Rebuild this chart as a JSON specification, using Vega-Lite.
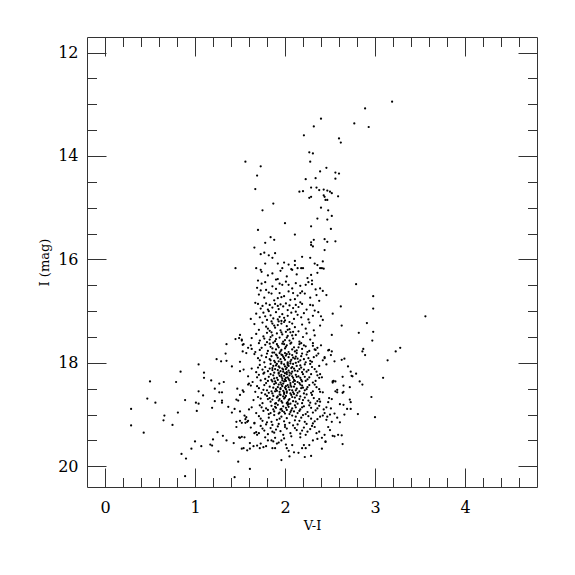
{
"$schema": "https://vega.github.io/schema/vega-lite/v6.json",
"width": 450, "height": 450,
"autosize": "none",
"padding": {"left": 87, "top": 37, "right": 38, "bottom": 88},
"background": "white",
"data": {"values": [
{"VI":3.19,"I":12.95},{"VI":2.89,"I":13.08},{"VI":2.40,"I":13.28},{"VI":2.77,"I":13.37},{"VI":2.32,"I":13.43},{"VI":2.93,"I":13.44},{"VI":2.21,"I":13.60},{"VI":2.60,"I":13.66},{"VI":2.62,"I":13.74},{"VI":2.27,"I":13.93},{"VI":2.31,"I":13.95},{"VI":1.56,"I":14.11},{"VI":2.28,"I":14.11},{"VI":1.73,"I":14.20},{"VI":2.46,"I":14.23},{"VI":2.39,"I":14.30},{"VI":2.56,"I":14.32},{"VI":2.60,"I":14.34},{"VI":1.69,"I":14.38},{"VI":2.34,"I":14.43},{"VI":2.23,"I":14.45},{"VI":2.56,"I":14.44},{"VI":1.67,"I":14.64},{"VI":2.29,"I":14.61},{"VI":2.35,"I":14.61},{"VI":2.38,"I":14.66},{"VI":2.43,"I":14.65},{"VI":2.47,"I":14.67},{"VI":2.50,"I":14.69},{"VI":2.52,"I":14.72},{"VI":2.16,"I":14.69},{"VI":2.20,"I":14.68},{"VI":2.43,"I":14.76},{"VI":2.44,"I":14.79},{"VI":2.27,"I":14.81},{"VI":2.29,"I":14.79},{"VI":2.59,"I":14.78},{"VI":2.45,"I":14.85},{"VI":2.47,"I":14.85},{"VI":1.87,"I":14.92},{"VI":2.40,"I":15.00},{"VI":1.75,"I":15.05},{"VI":2.48,"I":15.05},{"VI":2.52,"I":15.16},{"VI":2.36,"I":15.21},{"VI":2.47,"I":15.23},{"VI":2.00,"I":15.30},{"VI":2.29,"I":15.36},{"VI":2.51,"I":15.41},{"VI":1.70,"I":15.43},{"VI":2.11,"I":15.52},{"VI":1.84,"I":15.57},{"VI":1.88,"I":15.62},{"VI":1.78,"I":15.68},{"VI":2.32,"I":15.62},{"VI":2.29,"I":15.67},{"VI":2.29,"I":15.72},{"VI":2.31,"I":15.75},{"VI":2.44,"I":15.61},{"VI":2.47,"I":15.66},{"VI":2.56,"I":15.65},{"VI":1.66,"I":15.77},{"VI":1.73,"I":15.90},{"VI":1.77,"I":15.87},{"VI":1.82,"I":15.92},{"VI":1.86,"I":15.97},{"VI":1.89,"I":15.88},{"VI":2.44,"I":15.82},{"VI":2.19,"I":15.95},{"VI":2.28,"I":15.97},{"VI":2.42,"I":16.04},{"VI":1.78,"I":16.08},{"VI":1.92,"I":16.08},{"VI":1.99,"I":16.06},{"VI":2.04,"I":16.10},{"VI":2.11,"I":16.03},{"VI":2.11,"I":16.11},{"VI":2.33,"I":16.08},{"VI":2.36,"I":16.11},{"VI":1.45,"I":16.17},{"VI":1.68,"I":16.17},{"VI":1.97,"I":16.17},{"VI":2.07,"I":16.19},{"VI":2.14,"I":16.17},{"VI":2.18,"I":16.17},{"VI":2.20,"I":16.17},{"VI":2.39,"I":16.17},{"VI":2.41,"I":16.17},{"VI":2.43,"I":16.18},
{"VI":2.08,"I":16.20},{"VI":1.73,"I":16.20},{"VI":1.70,"I":16.41},{"VI":1.74,"I":16.47},{"VI":1.90,"I":16.39},{"VI":1.81,"I":16.31},{"VI":1.97,"I":16.49},{"VI":2.04,"I":16.49},{"VI":2.12,"I":16.46},{"VI":2.23,"I":16.49},{"VI":2.30,"I":16.41},{"VI":2.30,"I":16.48},{"VI":2.29,"I":16.30},{"VI":2.79,"I":16.48},{"VI":1.79,"I":16.59},{"VI":1.73,"I":16.60},{"VI":1.82,"I":16.64},{"VI":1.90,"I":16.57},{"VI":1.94,"I":16.65},{"VI":2.09,"I":16.65},{"VI":2.17,"I":16.65},{"VI":2.19,"I":16.62},{"VI":2.14,"I":16.70},{"VI":2.39,"I":16.56},{"VI":2.42,"I":16.61},{"VI":2.46,"I":16.69},{"VI":1.92,"I":16.75},{"VI":1.96,"I":16.73},{"VI":2.11,"I":16.77},{"VI":2.17,"I":16.83},{"VI":2.31,"I":16.89},{"VI":2.38,"I":16.80},{"VI":2.98,"I":16.71},{"VI":2.98,"I":16.95},{"VI":3.56,"I":17.10},{"VI":1.67,"I":16.84},{"VI":2.62,"I":16.91},{"VI":2.53,"I":17.05},{"VI":2.40,"I":17.10},{"VI":2.42,"I":17.17},{"VI":2.63,"I":17.28},{"VI":2.52,"I":17.46},{"VI":2.91,"I":17.23},{"VI":2.82,"I":17.42},{"VI":2.98,"I":17.40},{"VI":2.97,"I":17.57},{"VI":2.87,"I":17.73},{"VI":2.86,"I":17.78},{"VI":3.23,"I":17.78},{"VI":3.28,"I":17.71},{"VI":2.49,"I":17.75},{"VI":2.52,"I":17.78},{"VI":1.45,"I":17.54},{"VI":1.50,"I":17.46},{"VI":1.52,"I":17.55},{"VI":1.53,"I":17.65},{"VI":1.59,"I":17.71},{"VI":1.63,"I":17.73},{"VI":1.53,"I":17.78},{"VI":2.31,"I":17.67},{"VI":2.34,"I":17.75},{"VI":2.44,"I":17.91},{"VI":2.66,"I":17.92},
{"VI":2.89,"I":17.85},{"VI":3.14,"I":17.95},{"VI":3.09,"I":18.29},{"VI":2.96,"I":18.66},{"VI":3.00,"I":19.05},{"VI":2.48,"I":17.76},{"VI":2.44,"I":17.89},{"VI":2.42,"I":17.95},{"VI":2.51,"I":17.85},{"VI":2.55,"I":17.97},{"VI":2.46,"I":18.03},{"VI":2.63,"I":17.94},{"VI":2.70,"I":18.07},{"VI":2.73,"I":18.17},{"VI":2.79,"I":18.21},{"VI":2.74,"I":18.25},{"VI":2.75,"I":18.26},{"VI":2.64,"I":18.27},{"VI":2.83,"I":18.36},{"VI":2.86,"I":18.42},{"VI":2.54,"I":18.35},{"VI":2.53,"I":18.36},{"VI":2.56,"I":18.36},{"VI":2.53,"I":18.38},{"VI":2.41,"I":18.28},{"VI":2.39,"I":18.22},{"VI":2.65,"I":18.44},{"VI":2.72,"I":18.47},{"VI":2.56,"I":18.55},{"VI":2.58,"I":18.52},{"VI":2.58,"I":18.57},{"VI":2.64,"I":18.58},{"VI":2.65,"I":18.56},{"VI":2.39,"I":18.56},{"VI":2.42,"I":18.57},{"VI":2.52,"I":18.70},{"VI":2.49,"I":18.68},{"VI":2.72,"I":18.71},{"VI":2.73,"I":18.76},{"VI":2.61,"I":18.80},{"VI":2.65,"I":18.81},{"VI":2.69,"I":18.89},{"VI":2.73,"I":18.89},{"VI":2.48,"I":18.76},{"VI":2.39,"I":18.75},{"VI":2.81,"I":18.99},{"VI":2.66,"I":19.00},{"VI":2.58,"I":19.06},{"VI":2.52,"I":19.14},{"VI":2.46,"I":19.10},{"VI":2.61,"I":19.15},{"VI":2.48,"I":19.24},{"VI":2.50,"I":19.30},{"VI":2.44,"I":19.39},{"VI":2.53,"I":19.41},{"VI":2.55,"I":19.42},{"VI":2.59,"I":19.39},{"VI":2.63,"I":19.40},{"VI":2.41,"I":19.45},{"VI":2.45,"I":19.52},{"VI":2.64,"I":19.57},{"VI":2.41,"I":19.66},{"VI":2.46,"I":18.86},{"VI":2.43,"I":18.90},{"VI":2.51,"I":18.88},{"VI":2.44,"I":18.97},{"VI":2.50,"I":19.00},{"VI":2.42,"I":19.02},{"VI":2.47,"I":19.04},{"VI":2.55,"I":18.98},
{"VI":0.89,"I":20.19},{"VI":0.85,"I":19.76},{"VI":0.90,"I":19.85},{"VI":0.96,"I":19.66},{"VI":1.00,"I":19.52},{"VI":1.07,"I":19.61},{"VI":1.17,"I":19.58},{"VI":1.19,"I":19.60},{"VI":1.20,"I":19.48},{"VI":1.26,"I":19.71},{"VI":1.35,"I":19.50},{"VI":1.43,"I":19.55},{"VI":1.48,"I":19.91},{"VI":1.44,"I":20.21},{"VI":1.61,"I":20.05},{"VI":1.52,"I":19.66},{"VI":1.54,"I":19.65},{"VI":1.58,"I":19.69},{"VI":1.61,"I":19.66},{"VI":1.65,"I":19.61},{"VI":1.69,"I":19.60},{"VI":1.73,"I":19.56},{"VI":1.72,"I":19.65},{"VI":1.76,"I":19.63},{"VI":1.79,"I":19.61},{"VI":1.81,"I":19.50},{"VI":1.85,"I":19.50},{"VI":1.87,"I":19.52},{"VI":1.86,"I":19.65},{"VI":1.89,"I":19.65},{"VI":1.91,"I":19.56},{"VI":1.93,"I":19.54},{"VI":1.96,"I":19.50},{"VI":2.01,"I":19.58},{"VI":2.02,"I":19.65},{"VI":2.04,"I":19.70},{"VI":2.08,"I":19.59},{"VI":2.05,"I":19.81},{"VI":2.10,"I":19.73},{"VI":2.15,"I":19.74},{"VI":2.19,"I":19.65},{"VI":2.21,"I":19.59},{"VI":2.23,"I":19.65},{"VI":2.27,"I":19.59},{"VI":2.22,"I":19.82},{"VI":2.29,"I":19.80},{"VI":2.31,"I":19.50},{"VI":2.45,"I":19.53},{"VI":1.96,"I":19.88},
{"VI":0.29,"I":19.21},{"VI":0.43,"I":19.35},{"VI":0.65,"I":19.11},{"VI":0.75,"I":19.20},{"VI":1.25,"I":19.34},{"VI":1.31,"I":19.41},{"VI":1.46,"I":19.14},{"VI":1.46,"I":19.24},{"VI":1.52,"I":19.16},{"VI":1.56,"I":19.16},{"VI":1.59,"I":19.12},{"VI":1.66,"I":19.16},{"VI":1.50,"I":19.45},{"VI":1.52,"I":19.43},{"VI":1.66,"I":19.36},{"VI":1.69,"I":19.39},{"VI":1.71,"I":19.36},
{"VI":0.29,"I":18.89},{"VI":0.50,"I":18.36},{"VI":0.47,"I":18.69},{"VI":0.56,"I":18.77},{"VI":0.66,"I":19.02},{"VI":0.79,"I":18.37},{"VI":0.84,"I":18.17},{"VI":0.81,"I":18.96},{"VI":0.89,"I":18.72},{"VI":1.04,"I":18.03},{"VI":1.10,"I":18.19},{"VI":1.10,"I":18.29},{"VI":1.04,"I":18.55},{"VI":1.01,"I":18.77},{"VI":1.04,"I":18.79},{"VI":1.02,"I":18.93},{"VI":1.09,"I":18.63},{"VI":1.18,"I":18.34},{"VI":1.24,"I":17.93},{"VI":1.29,"I":17.97},{"VI":1.35,"I":17.96},{"VI":1.22,"I":18.50},{"VI":1.27,"I":18.40},{"VI":1.32,"I":18.37},{"VI":1.27,"I":18.57},{"VI":1.30,"I":18.57},{"VI":1.22,"I":18.74},{"VI":1.19,"I":18.87},{"VI":1.30,"I":18.73},{"VI":1.30,"I":18.77},{"VI":1.37,"I":18.85},{"VI":1.41,"I":18.96},{"VI":1.35,"I":17.64},{"VI":1.34,"I":17.82},{"VI":1.41,"I":18.07},{"VI":1.49,"I":17.52},{"VI":1.52,"I":17.57},{"VI":1.54,"I":17.64},{"VI":1.57,"I":17.81},{"VI":1.50,"I":17.98},{"VI":1.50,"I":18.16},{"VI":1.54,"I":18.13},{"VI":1.47,"I":18.50},{"VI":1.53,"I":18.53},{"VI":1.54,"I":18.56},{"VI":1.59,"I":18.26},{"VI":1.60,"I":18.40},{"VI":1.59,"I":18.42},{"VI":1.50,"I":18.62},{"VI":1.46,"I":18.71},{"VI":1.48,"I":18.73},{"VI":1.44,"I":18.89},{"VI":1.50,"I":18.94},{"VI":1.60,"I":18.90},{"VI":1.55,"I":19.02},{"VI":1.57,"I":19.05},{"VI":1.50,"I":19.12},{"VI":1.56,"I":19.09},{"VI":1.58,"I":19.14},{"VI":1.49,"I":19.44},{"VI":1.55,"I":19.44},{"VI":1.61,"I":19.55},
{"VI":1.74,"I":16.24},{"VI":1.86,"I":16.27},{"VI":1.95,"I":16.22},{"VI":2.02,"I":16.33},{"VI":2.13,"I":16.29},{"VI":2.25,"I":16.36},{"VI":2.36,"I":16.26},{"VI":1.92,"I":16.38},
{"VI":1.78,"I":16.44},{"VI":1.86,"I":16.52},{"VI":2.01,"I":16.43},{"VI":2.08,"I":16.56},{"VI":2.17,"I":16.51},{"VI":2.26,"I":16.44},{"VI":2.34,"I":16.58},{"VI":1.69,"I":16.55},{"VI":1.94,"I":16.47},
{"VI":1.71,"I":16.68},{"VI":1.77,"I":16.74},{"VI":1.85,"I":16.66},{"VI":1.99,"I":16.71},{"VI":2.04,"I":16.62},{"VI":2.06,"I":16.78},{"VI":2.22,"I":16.66},{"VI":2.28,"I":16.74},{"VI":2.35,"I":16.69},{"VI":1.88,"I":16.79},
{"VI":1.70,"I":16.86},{"VI":1.75,"I":16.90},{"VI":1.79,"I":16.85},{"VI":1.83,"I":16.88},{"VI":1.86,"I":16.93},{"VI":1.89,"I":16.86},{"VI":1.92,"I":16.90},{"VI":1.95,"I":16.87},{"VI":1.98,"I":16.91},{"VI":2.01,"I":16.85},{"VI":2.05,"I":16.89},{"VI":2.09,"I":16.94},{"VI":2.12,"I":16.88},{"VI":2.15,"I":16.92},{"VI":2.19,"I":16.86},{"VI":2.24,"I":16.97},{"VI":2.33,"I":16.99},{"VI":1.81,"I":16.97},{"VI":1.93,"I":16.96},{"VI":2.03,"I":16.98},{"VI":1.73,"I":16.95},{"VI":2.28,"I":16.88},
{"VI":1.68,"I":17.05},{"VI":1.72,"I":17.12},{"VI":1.76,"I":17.03},{"VI":1.80,"I":17.17},{"VI":1.84,"I":17.08},{"VI":1.87,"I":17.14},{"VI":1.90,"I":17.02},{"VI":1.94,"I":17.11},{"VI":1.97,"I":17.06},{"VI":2.00,"I":17.18},{"VI":2.03,"I":17.09},{"VI":2.07,"I":17.03},{"VI":2.10,"I":17.15},{"VI":2.14,"I":17.07},{"VI":2.18,"I":17.12},{"VI":2.21,"I":17.04},{"VI":2.26,"I":17.16},{"VI":2.31,"I":17.09},{"VI":2.37,"I":17.02},{"VI":1.82,"I":17.00},{"VI":1.96,"I":17.19},{"VI":2.12,"I":17.01},{"VI":1.62,"I":17.15},
{"VI":1.66,"I":17.25},{"VI":1.71,"I":17.36},{"VI":1.75,"I":17.22},{"VI":1.79,"I":17.30},{"VI":1.83,"I":17.38},{"VI":1.86,"I":17.24},{"VI":1.89,"I":17.32},{"VI":1.92,"I":17.27},{"VI":1.95,"I":17.37},{"VI":1.99,"I":17.21},{"VI":2.02,"I":17.29},{"VI":2.05,"I":17.35},{"VI":2.08,"I":17.24},{"VI":2.11,"I":17.31},{"VI":2.15,"I":17.39},{"VI":2.19,"I":17.26},{"VI":2.23,"I":17.34},{"VI":2.27,"I":17.22},{"VI":2.32,"I":17.37},{"VI":2.39,"I":17.28},{"VI":1.93,"I":17.20},{"VI":2.01,"I":17.40},
{"VI":1.63,"I":17.52},{"VI":1.68,"I":17.44},{"VI":1.72,"I":17.57},{"VI":1.76,"I":17.49},{"VI":1.80,"I":17.42},{"VI":1.83,"I":17.55},{"VI":1.86,"I":17.47},{"VI":1.89,"I":17.58},{"VI":1.91,"I":17.43},{"VI":1.94,"I":17.51},{"VI":1.97,"I":17.45},{"VI":2.00,"I":17.56},{"VI":2.03,"I":17.48},{"VI":2.06,"I":17.41},{"VI":2.09,"I":17.53},{"VI":2.12,"I":17.46},{"VI":2.16,"I":17.59},{"VI":2.20,"I":17.50},{"VI":2.24,"I":17.43},{"VI":2.28,"I":17.55},{"VI":2.33,"I":17.47},{"VI":1.98,"I":17.59},{"VI":2.05,"I":17.57},{"VI":1.85,"I":17.41},
{"VI":1.62,"I":17.66},{"VI":1.67,"I":17.79},{"VI":1.71,"I":17.62},{"VI":1.74,"I":17.71},{"VI":1.78,"I":17.65},{"VI":1.81,"I":17.77},{"VI":1.84,"I":17.69},{"VI":1.87,"I":17.61},{"VI":1.90,"I":17.74},{"VI":1.92,"I":17.67},{"VI":1.95,"I":17.78},{"VI":1.97,"I":17.63},{"VI":2.00,"I":17.72},{"VI":2.02,"I":17.66},{"VI":2.04,"I":17.79},{"VI":2.07,"I":17.61},{"VI":2.10,"I":17.70},{"VI":2.13,"I":17.76},{"VI":2.16,"I":17.64},{"VI":2.19,"I":17.73},{"VI":2.23,"I":17.68},{"VI":2.27,"I":17.77},{"VI":2.31,"I":17.62},{"VI":2.36,"I":17.71},{"VI":1.88,"I":17.80},{"VI":1.99,"I":17.64},{"VI":2.08,"I":17.74},{"VI":1.93,"I":17.70},{"VI":2.40,"I":17.66},{"VI":1.80,"I":17.60},
{"VI":1.66,"I":17.83},{"VI":1.70,"I":17.91},{"VI":1.74,"I":17.86},{"VI":1.77,"I":17.99},{"VI":1.80,"I":17.82},{"VI":1.83,"I":17.93},{"VI":1.85,"I":17.87},{"VI":1.88,"I":17.96},{"VI":1.90,"I":17.84},{"VI":1.92,"I":17.90},{"VI":1.94,"I":17.81},{"VI":1.96,"I":17.98},{"VI":1.98,"I":17.88},{"VI":2.00,"I":17.94},{"VI":2.02,"I":17.83},{"VI":2.04,"I":17.89},{"VI":2.06,"I":17.97},{"VI":2.08,"I":17.85},{"VI":2.11,"I":17.92},{"VI":2.13,"I":17.81},{"VI":2.15,"I":17.98},{"VI":2.18,"I":17.87},{"VI":2.21,"I":17.93},{"VI":2.24,"I":17.84},{"VI":2.28,"I":17.96},{"VI":2.32,"I":17.89},{"VI":2.37,"I":17.82},{"VI":1.89,"I":17.99},{"VI":1.97,"I":17.85},{"VI":2.03,"I":17.99},{"VI":2.09,"I":17.90},{"VI":1.86,"I":17.80},{"VI":2.01,"I":17.86},{"VI":2.17,"I":17.95},{"VI":1.95,"I":17.93},
{"VI":1.63,"I":18.11},{"VI":1.68,"I":18.18},{"VI":1.72,"I":18.04},{"VI":1.75,"I":18.13},{"VI":1.78,"I":18.08},{"VI":1.81,"I":18.16},{"VI":1.84,"I":18.02},{"VI":1.86,"I":18.10},{"VI":1.88,"I":18.19},{"VI":1.90,"I":18.05},{"VI":1.92,"I":18.14},{"VI":1.94,"I":18.09},{"VI":1.96,"I":18.01},{"VI":1.98,"I":18.17},{"VI":2.00,"I":18.07},{"VI":2.01,"I":18.12},{"VI":2.03,"I":18.04},{"VI":2.05,"I":18.19},{"VI":2.07,"I":18.10},{"VI":2.09,"I":18.02},{"VI":2.11,"I":18.15},{"VI":2.13,"I":18.06},{"VI":2.16,"I":18.12},{"VI":2.19,"I":18.18},{"VI":2.22,"I":18.03},{"VI":2.26,"I":18.14},{"VI":2.30,"I":18.08},{"VI":2.35,"I":18.17},{"VI":1.93,"I":18.19},{"VI":1.99,"I":18.03},{"VI":2.04,"I":18.15},{"VI":2.08,"I":18.08},{"VI":1.87,"I":18.06},{"VI":2.12,"I":18.00},{"VI":1.97,"I":18.11},{"VI":2.02,"I":18.18},
{"VI":1.64,"I":18.37},{"VI":1.69,"I":18.28},{"VI":1.73,"I":18.34},{"VI":1.76,"I":18.21},{"VI":1.79,"I":18.39},{"VI":1.82,"I":18.27},{"VI":1.85,"I":18.33},{"VI":1.87,"I":18.24},{"VI":1.89,"I":18.36},{"VI":1.91,"I":18.29},{"VI":1.93,"I":18.21},{"VI":1.95,"I":18.38},{"VI":1.97,"I":18.30},{"VI":1.99,"I":18.25},{"VI":2.01,"I":18.35},{"VI":2.02,"I":18.22},{"VI":2.04,"I":18.31},{"VI":2.06,"I":18.39},{"VI":2.08,"I":18.26},{"VI":2.10,"I":18.33},{"VI":2.12,"I":18.23},{"VI":2.14,"I":18.37},{"VI":2.17,"I":18.29},{"VI":2.20,"I":18.22},{"VI":2.23,"I":18.35},{"VI":2.27,"I":18.28},{"VI":2.31,"I":18.38},{"VI":2.36,"I":18.24},{"VI":1.96,"I":18.27},{"VI":2.00,"I":18.32},{"VI":2.05,"I":18.24},{"VI":1.92,"I":18.33},{"VI":2.09,"I":18.37},{"VI":1.84,"I":18.22},{"VI":2.15,"I":18.26},{"VI":1.98,"I":18.40},
{"VI":1.62,"I":18.44},{"VI":1.67,"I":18.56},{"VI":1.71,"I":18.49},{"VI":1.74,"I":18.58},{"VI":1.77,"I":18.43},{"VI":1.80,"I":18.53},{"VI":1.83,"I":18.46},{"VI":1.86,"I":18.59},{"VI":1.88,"I":18.41},{"VI":1.90,"I":18.51},{"VI":1.92,"I":18.47},{"VI":1.94,"I":18.56},{"VI":1.96,"I":18.42},{"VI":1.98,"I":18.54},{"VI":2.00,"I":18.48},{"VI":2.02,"I":18.58},{"VI":2.03,"I":18.43},{"VI":2.05,"I":18.52},{"VI":2.07,"I":18.46},{"VI":2.09,"I":18.57},{"VI":2.11,"I":18.41},{"VI":2.13,"I":18.50},{"VI":2.16,"I":18.55},{"VI":2.19,"I":18.44},{"VI":2.22,"I":18.53},{"VI":2.25,"I":18.47},{"VI":2.29,"I":18.58},{"VI":2.33,"I":18.42},{"VI":2.38,"I":18.51},{"VI":1.95,"I":18.49},{"VI":2.01,"I":18.45},{"VI":2.06,"I":18.59},{"VI":1.89,"I":18.55},{"VI":2.12,"I":18.53},{"VI":1.99,"I":18.60},
{"VI":1.65,"I":18.72},{"VI":1.70,"I":18.66},{"VI":1.75,"I":18.78},{"VI":1.78,"I":18.61},{"VI":1.81,"I":18.70},{"VI":1.84,"I":18.75},{"VI":1.87,"I":18.64},{"VI":1.89,"I":18.79},{"VI":1.91,"I":18.67},{"VI":1.93,"I":18.73},{"VI":1.95,"I":18.62},{"VI":1.97,"I":18.77},{"VI":1.99,"I":18.69},{"VI":2.01,"I":18.64},{"VI":2.03,"I":18.76},{"VI":2.05,"I":18.70},{"VI":2.07,"I":18.62},{"VI":2.09,"I":18.74},{"VI":2.11,"I":18.67},{"VI":2.14,"I":18.79},{"VI":2.17,"I":18.65},{"VI":2.20,"I":18.72},{"VI":2.24,"I":18.61},{"VI":2.28,"I":18.77},{"VI":2.32,"I":18.68},{"VI":2.36,"I":18.74},{"VI":1.98,"I":18.65},{"VI":2.04,"I":18.80},{"VI":1.94,"I":18.70},{"VI":2.10,"I":18.60},
{"VI":1.63,"I":18.86},{"VI":1.68,"I":18.97},{"VI":1.72,"I":18.82},{"VI":1.76,"I":18.93},{"VI":1.79,"I":18.88},{"VI":1.82,"I":18.99},{"VI":1.85,"I":18.83},{"VI":1.88,"I":18.94},{"VI":1.90,"I":18.87},{"VI":1.92,"I":18.81},{"VI":1.94,"I":18.96},{"VI":1.96,"I":18.89},{"VI":1.98,"I":18.84},{"VI":2.00,"I":18.98},{"VI":2.02,"I":18.91},{"VI":2.04,"I":18.85},{"VI":2.06,"I":18.95},{"VI":2.08,"I":18.88},{"VI":2.11,"I":18.82},{"VI":2.14,"I":18.97},{"VI":2.17,"I":18.90},{"VI":2.21,"I":18.84},{"VI":2.25,"I":18.95},{"VI":2.29,"I":18.87},{"VI":2.34,"I":18.92},{"VI":2.38,"I":18.83},{"VI":1.97,"I":18.93},{"VI":2.03,"I":18.81},{"VI":1.87,"I":18.90},
{"VI":1.66,"I":19.17},{"VI":1.71,"I":19.03},{"VI":1.75,"I":19.12},{"VI":1.79,"I":19.19},{"VI":1.82,"I":19.06},{"VI":1.85,"I":19.14},{"VI":1.88,"I":19.01},{"VI":1.91,"I":19.10},{"VI":1.93,"I":19.18},{"VI":1.96,"I":19.04},{"VI":1.99,"I":19.13},{"VI":2.02,"I":19.07},{"VI":2.05,"I":19.16},{"VI":2.08,"I":19.02},{"VI":2.11,"I":19.11},{"VI":2.14,"I":19.19},{"VI":2.18,"I":19.06},{"VI":2.22,"I":19.14},{"VI":2.26,"I":19.03},{"VI":2.31,"I":19.17},{"VI":2.36,"I":19.09},{"VI":2.00,"I":19.20},{"VI":2.12,"I":19.04},{"VI":1.86,"I":19.20},
{"VI":1.68,"I":19.34},{"VI":1.73,"I":19.22},{"VI":1.77,"I":19.31},{"VI":1.81,"I":19.38},{"VI":1.84,"I":19.26},{"VI":1.88,"I":19.35},{"VI":1.92,"I":19.23},{"VI":1.95,"I":19.32},{"VI":1.98,"I":19.39},{"VI":2.02,"I":19.27},{"VI":2.06,"I":19.36},{"VI":2.09,"I":19.21},{"VI":2.13,"I":19.30},{"VI":2.17,"I":19.37},{"VI":2.21,"I":19.25},{"VI":2.25,"I":19.33},{"VI":2.30,"I":19.22},{"VI":2.35,"I":19.36},{"VI":1.90,"I":19.29},{"VI":2.00,"I":19.24},{"VI":1.62,"I":19.25},
{"VI":1.78,"I":19.44},{"VI":1.89,"I":19.45},{"VI":1.99,"I":19.46},{"VI":2.07,"I":19.42},{"VI":2.17,"I":19.44},{"VI":2.36,"I":19.47},
{"VI":1.91,"I":17.86},{"VI":1.99,"I":17.91},{"VI":2.05,"I":17.83},{"VI":2.12,"I":17.88},{"VI":1.84,"I":17.95},{"VI":1.93,"I":17.97},{"VI":2.07,"I":17.94},{"VI":2.00,"I":17.81},{"VI":2.14,"I":17.92},{"VI":1.96,"I":17.84},
{"VI":1.89,"I":18.12},{"VI":1.95,"I":18.16},{"VI":2.02,"I":18.09},{"VI":2.06,"I":18.01},{"VI":2.10,"I":18.11},{"VI":1.91,"I":18.02},{"VI":1.98,"I":18.13},{"VI":2.04,"I":18.06},{"VI":2.14,"I":18.16},{"VI":1.86,"I":18.14},{"VI":2.00,"I":18.20},{"VI":2.08,"I":18.17},{"VI":1.93,"I":18.07},{"VI":2.17,"I":18.05},{"VI":2.03,"I":18.01},
{"VI":1.88,"I":18.30},{"VI":1.94,"I":18.25},{"VI":1.99,"I":18.36},{"VI":2.03,"I":18.28},{"VI":2.07,"I":18.21},{"VI":2.11,"I":18.35},{"VI":1.90,"I":18.39},{"VI":1.96,"I":18.23},{"VI":2.01,"I":18.29},{"VI":2.05,"I":18.34},{"VI":2.13,"I":18.27},{"VI":1.86,"I":18.36},{"VI":2.18,"I":18.33},{"VI":1.97,"I":18.34},{"VI":2.09,"I":18.29},
{"VI":1.87,"I":18.48},{"VI":1.91,"I":18.54},{"VI":1.97,"I":18.45},{"VI":2.01,"I":18.51},{"VI":2.04,"I":18.47},{"VI":2.08,"I":18.53},{"VI":1.93,"I":18.42},{"VI":1.99,"I":18.57},{"VI":2.10,"I":18.46},{"VI":2.14,"I":18.58},{"VI":1.85,"I":18.55},{"VI":2.18,"I":18.49},{"VI":1.95,"I":18.51},{"VI":2.06,"I":18.43},{"VI":2.02,"I":18.55},
{"VI":1.86,"I":18.71},{"VI":1.92,"I":18.65},{"VI":1.96,"I":18.74},{"VI":2.00,"I":18.67},{"VI":2.04,"I":18.72},{"VI":2.08,"I":18.66},{"VI":2.12,"I":18.75},{"VI":1.90,"I":18.78},{"VI":2.06,"I":18.79},{"VI":2.16,"I":18.70},{"VI":1.94,"I":18.61},{"VI":2.02,"I":18.78},
{"VI":1.89,"I":18.85},{"VI":1.95,"I":18.90},{"VI":2.01,"I":18.87},{"VI":2.07,"I":18.92},{"VI":2.12,"I":18.86},{"VI":1.93,"I":18.98},{"VI":2.05,"I":18.99},{"VI":2.16,"I":18.93},{"VI":1.99,"I":18.95},
{"VI":1.91,"I":17.64},{"VI":1.96,"I":17.75},{"VI":2.01,"I":17.69},{"VI":2.06,"I":17.63},{"VI":2.11,"I":17.78},{"VI":1.86,"I":17.72},{"VI":2.15,"I":17.70},
{"VI":1.78,"I":17.10},{"VI":1.85,"I":17.20},{"VI":1.92,"I":17.16},{"VI":1.99,"I":17.13},{"VI":2.05,"I":17.21},{"VI":1.81,"I":17.34},{"VI":1.88,"I":17.28},{"VI":1.96,"I":17.24},{"VI":2.03,"I":17.36},{"VI":2.09,"I":17.40},{"VI":1.84,"I":17.50},{"VI":1.90,"I":17.54},{"VI":1.96,"I":17.41},{"VI":2.02,"I":17.51},{"VI":2.08,"I":17.47},{"VI":1.77,"I":17.53},
{"VI":1.72,"I":17.75},{"VI":2.18,"I":17.62},{"VI":2.25,"I":17.79},{"VI":2.33,"I":17.74},{"VI":1.83,"I":17.63},{"VI":2.21,"I":17.66},
{"VI":1.72,"I":17.95},{"VI":2.19,"I":17.82},{"VI":2.26,"I":17.91},{"VI":2.30,"I":17.98},{"VI":2.35,"I":17.86},{"VI":1.79,"I":17.89},{"VI":2.23,"I":17.99},
{"VI":1.70,"I":18.09},{"VI":1.77,"I":18.19},{"VI":2.18,"I":18.09},{"VI":2.24,"I":18.17},{"VI":2.28,"I":18.02},{"VI":2.33,"I":18.12},{"VI":2.38,"I":18.06},{"VI":1.83,"I":18.11},{"VI":2.21,"I":18.13},
{"VI":1.71,"I":18.23},{"VI":1.78,"I":18.31},{"VI":2.16,"I":18.39},{"VI":2.22,"I":18.27},{"VI":2.25,"I":18.32},{"VI":2.29,"I":18.22},{"VI":2.34,"I":18.35},{"VI":2.38,"I":18.29},{"VI":1.81,"I":18.35},{"VI":2.19,"I":18.36},
{"VI":1.69,"I":18.45},{"VI":1.76,"I":18.52},{"VI":2.17,"I":18.42},{"VI":2.21,"I":18.59},{"VI":2.24,"I":18.51},{"VI":2.27,"I":18.43},{"VI":2.31,"I":18.55},{"VI":2.35,"I":18.47},{"VI":1.82,"I":18.58},{"VI":2.20,"I":18.48},
{"VI":1.73,"I":18.69},{"VI":1.80,"I":18.64},{"VI":2.13,"I":18.63},{"VI":2.19,"I":18.78},{"VI":2.22,"I":18.67},{"VI":2.26,"I":18.73},{"VI":2.30,"I":18.62},{"VI":2.34,"I":18.79},{"VI":2.38,"I":18.70},{"VI":1.83,"I":18.68},
{"VI":1.74,"I":18.86},{"VI":1.81,"I":18.91},{"VI":2.10,"I":18.94},{"VI":2.19,"I":18.86},{"VI":2.23,"I":18.99},{"VI":2.27,"I":18.82},{"VI":2.31,"I":18.96},{"VI":2.36,"I":18.88},{"VI":1.84,"I":18.97},
{"VI":1.73,"I":19.08},{"VI":1.80,"I":19.15},{"VI":2.16,"I":19.12},{"VI":2.20,"I":19.01},{"VI":2.24,"I":19.18},{"VI":2.29,"I":19.08},{"VI":2.33,"I":19.13},{"VI":2.39,"I":19.04},{"VI":1.94,"I":19.08},
{"VI":1.75,"I":19.27},{"VI":1.86,"I":19.33},{"VI":2.11,"I":19.26},{"VI":2.19,"I":19.31},{"VI":2.23,"I":19.39},{"VI":2.28,"I":19.28},{"VI":2.33,"I":19.24},{"VI":2.38,"I":19.33}
]},
"layer": [
{"mark": {"type": "point", "filled": true, "shape": "circle", "size": 5, "color": "black", "opacity": 1},
 "encoding": {
  "x": {"field": "VI", "type": "quantitative", "scale": {"domain": [-0.2, 4.8], "nice": false, "zero": false},
        "axis": {"orient": "bottom", "values": [0,1,2,3,4], "tickSize": -19, "labelPadding": 31, "title": "V-I", "titlePadding": 4, "format": "d"}},
  "y": {"field": "I", "type": "quantitative", "scale": {"domain": [11.7, 20.4], "reverse": true, "nice": false, "zero": false},
        "axis": {"orient": "left", "values": [12,14,16,18,20], "tickSize": -19, "labelPadding": 28, "title": "I (mag)", "format": "d"}}
 }},
{"mark": {"type": "point", "opacity": 0},
 "encoding": {
  "x": {"field": "VI", "type": "quantitative", "scale": {"domain": [-0.2, 4.8], "nice": false, "zero": false},
        "axis": {"orient": "bottom", "values": [0.2,0.4,0.6,0.8,1.2,1.4,1.6,1.8,2.2,2.4,2.6,2.8,3.2,3.4,3.6,3.8,4.2,4.4,4.6], "tickSize": -9.5, "labels": false, "domain": false, "title": null}},
  "y": {"field": "I", "type": "quantitative", "scale": {"domain": [11.7, 20.4], "reverse": true, "nice": false, "zero": false},
        "axis": {"orient": "left", "values": [12.5,13,13.5,14.5,15,15.5,16.5,17,17.5,18.5,19,19.5], "tickSize": -9.5, "labels": false, "domain": false, "title": null}}
 }},
{"mark": {"type": "point", "opacity": 0},
 "encoding": {
  "x": {"field": "VI", "type": "quantitative", "scale": {"domain": [-0.2, 4.8], "nice": false, "zero": false},
        "axis": {"orient": "top", "values": [0,1,2,3,4], "tickSize": -19, "labels": false, "title": null}},
  "y": {"field": "I", "type": "quantitative", "scale": {"domain": [11.7, 20.4], "reverse": true, "nice": false, "zero": false},
        "axis": {"orient": "right", "values": [12,14,16,18,20], "tickSize": -19, "labels": false, "title": null}}
 }},
{"mark": {"type": "point", "opacity": 0},
 "encoding": {
  "x": {"field": "VI", "type": "quantitative", "scale": {"domain": [-0.2, 4.8], "nice": false, "zero": false},
        "axis": {"orient": "top", "values": [0.2,0.4,0.6,0.8,1.2,1.4,1.6,1.8,2.2,2.4,2.6,2.8,3.2,3.4,3.6,3.8,4.2,4.4,4.6], "tickSize": -9.5, "labels": false, "domain": false, "title": null}},
  "y": {"field": "I", "type": "quantitative", "scale": {"domain": [11.7, 20.4], "reverse": true, "nice": false, "zero": false},
        "axis": {"orient": "right", "values": [12.5,13,13.5,14.5,15,15.5,16.5,17,17.5,18.5,19,19.5], "tickSize": -9.5, "labels": false, "domain": false, "title": null}}
 }}
],
"resolve": {"axis": {"x": "independent", "y": "independent"}},
"config": {
 "view": {"stroke": null},
 "axis": {"grid": false, "domainColor": "#333333", "tickColor": "#333333", "domainWidth": 1, "tickWidth": 1,
          "labelFont": "DejaVu Serif", "labelFontSize": 16, "labelColor": "black",
          "titleFont": "DejaVu Serif", "titleFontSize": 13, "titleFontWeight": "normal", "titleColor": "black", "titlePadding": 6}
}
}
